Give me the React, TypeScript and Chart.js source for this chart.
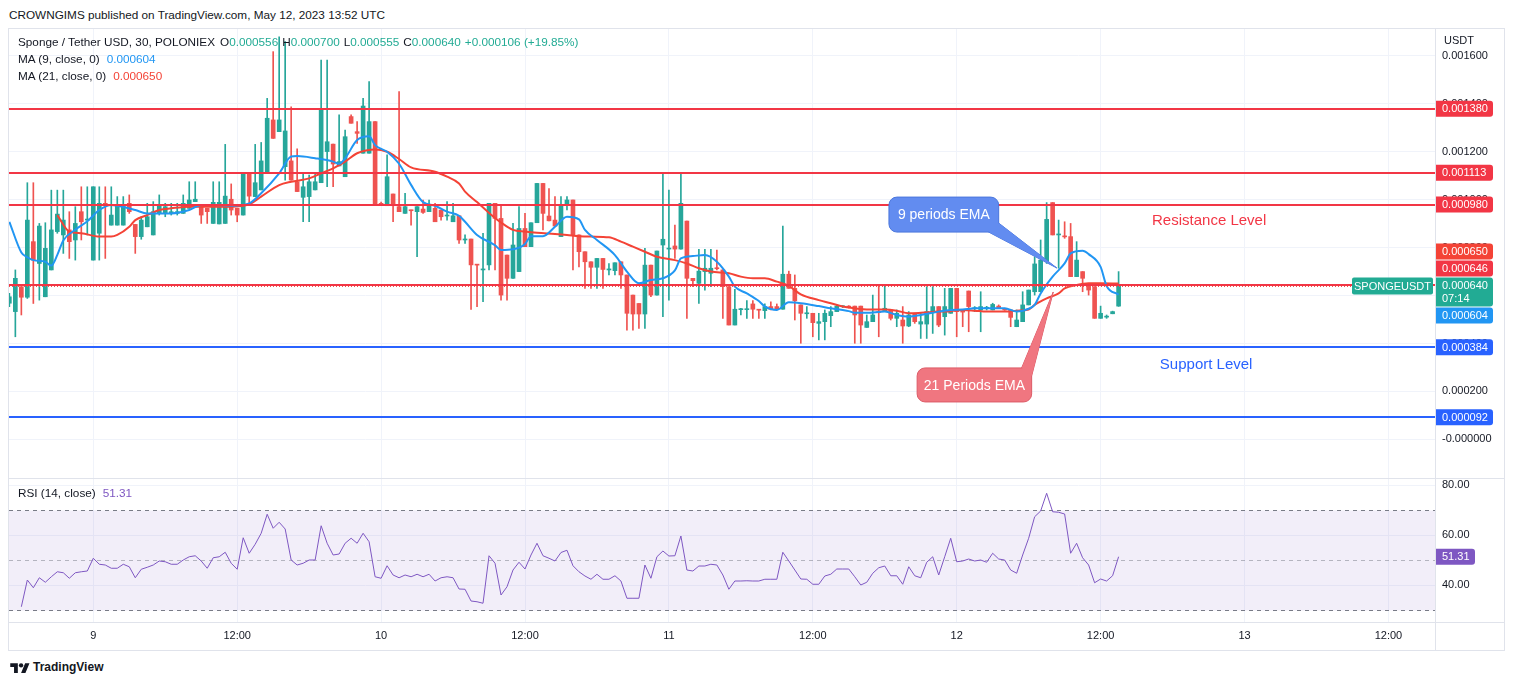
import React, { useEffect, useRef } from 'react';
import { Chart, registerables } from 'chart.js';

Chart.register(...registerables);

const FONT = '"Liberation Sans", Arial, sans-serif';
Chart.defaults.font.family = FONT;

const UNIT = 1e-6; // candle / EMA values are stored in micro-USDT
const FIRST_INDEX = -1; // bar index of the first candle (May 9 00:00 = bar 13)

const candleOpen = [568,
  533,637,593,825,734,595,707,867,853,874,
  832,950,915,748,860,985,894,894,894,985,
  897,846,887,853,943,943,943,943,943,964,
  992,975,964,901,899,901,1002,964,936,1106,
  1013,1041,1110,1333,1284,1138,1162,1075,1010,1013,
  1041,1071,1201,1232,1141,1096,1347,1284,1194,1194,
  1326,985,975,1024,971,943,957,950,961,950,
  964,957,932,908,933,832,836,730,707,728,
  985,922,769,672,700,880,804,904,1068,932,
  915,846,978,999,853,783,741,718,755,707,
  704,741,686,602,567,523,727,602,811,794,
  807,794,911,672,651,700,693,716,707,637,
  477,541,541,565,543,537,554,554,543,689,
  630,561,524,526,484,491,516,533,553,556,
  556,556,467,491,533,533,540,505,498,473,
  526,481,481,529,554,512,526,630,535,619,
  545,540,547,540,556,545,540,470,491,561,
  616,616,741,988,853,848,846,679,700,651,
  637,505,510,524,556];
const candleHigh = [609,
  707,637,1071,1071,901,904,1040,1040,1040,950,
  971,1054,1054,1054,1054,1054,1054,1013,1013,1020,
  897,929,985,992,1020,985,985,985,1020,1075,
  1075,975,964,1075,1075,1231,1066,964,1106,1106,
  1231,1239,1423,1618,1680,1660,1388,1212,1110,1103,
  1110,1583,1583,1232,1354,1291,1354,1326,1423,1493,
  1326,990,1187,1024,1451,1027,957,971,999,999,
  985,957,992,985,933,853,836,730,860,985,
  985,978,769,901,971,943,904,1068,1068,1047,
  1013,1013,1013,999,853,783,741,755,755,734,
  737,741,686,602,567,797,727,786,1113,1040,
  894,1113,911,672,793,793,793,790,707,637,
  626,547,579,579,543,565,574,565,890,702,
  686,561,554,526,526,540,554,561,558,558,
  556,556,519,602,640,640,540,540,554,533,
  526,526,637,637,554,630,630,630,535,619,
  554,616,555,568,561,547,540,540,616,623,
  762,832,988,988,915,908,901,825,700,651,
  637,556,519,535,700];
const candleLow = [554,
  428,519,588,567,581,595,707,860,776,755,
  748,832,853,748,748,755,894,894,894,943,
  776,835,887,853,936,929,936,936,943,964,
  992,901,901,901,899,901,936,908,936,985,
  1013,1041,1110,1256,1284,1082,1082,1034,908,908,
  1041,1071,1054,1054,1141,1096,1319,1235,1194,1194,
  978,975,975,908,950,943,894,762,943,950,
  908,915,915,908,818,818,542,554,575,707,
  707,581,581,672,700,804,804,904,874,912,
  890,846,957,707,720,630,630,630,630,686,
  686,630,456,456,463,463,595,602,512,581,
  755,794,505,637,567,623,637,707,505,477,
  477,519,505,505,505,505,540,540,543,630,
  498,401,505,428,415,415,470,533,550,548,
  401,401,467,491,428,533,498,470,401,470,
  484,421,421,442,470,435,526,428,470,449,
  533,449,540,540,547,538,470,470,491,561,
  602,616,734,853,714,839,679,679,616,602,
  505,505,505,524,555];
const candleClose = [595,
  672,593,915,748,890,797,874,940,915,825,
  901,908,918,1054,985,978,936,978,978,950,
  846,915,929,950,978,971,950,950,985,999,
  1002,936,950,989,989,1015,957,936,1106,1015,
  1071,1162,1340,1256,1333,1287,1082,1034,1054,1075,
  1075,1381,1242,1149,1159,1263,1319,1277,1391,1326,
  978,978,1096,975,950,971,954,971,947,975,
  908,929,936,933,832,836,728,727,710,985,
  922,602,672,811,880,804,904,1068,943,912,
  890,974,999,853,783,741,718,755,709,711,
  737,686,526,523,523,727,602,786,835,797,
  794,985,672,662,702,714,714,712,637,477,
  543,545,545,543,539,554,543,543,689,630,
  578,526,528,487,491,526,533,556,556,551,
  519,477,491,519,529,547,505,526,473,519,
  491,491,533,554,477,554,630,533,531,554,
  549,554,551,563,547,540,509,498,561,623,
  732,748,918,853,856,845,679,748,672,623,
  505,526,514,533,640];

// EMA lines (bar index, micro-USDT)
const ema9Index = [-1,1,2,3,5,6,7,8,10,12,14,16,17,20,22,26,29,31,33,36,39,41,44,46,47,50,53,54,55,57,59,60,62,64,66,68,70,72,74,75,77,80,81,83,85,86,88,90,92,94,95,97,100,102,104,106,108,110,111,113,115,117,119,120,122,124,125,127,129,131,134,136,139,140,142,145,147,149,151,154,156,158,160,165,167,169,170,171,173,175,176,178,179,181,182,184];
const ema9Value = [908,780,760,748,741,725,770,830,875,910,957,978,975,957,943,943,957,978,978,975,985,1027,1110,1180,1182,1173,1159,1150,1173,1249,1265,1228,1200,1150,1062,990,975,950,933,908,853,810,790,793,815,848,848,887,929,918,874,832,769,700,651,665,672,705,755,765,769,741,679,637,609,577,554,540,572,568,556,547,535,528,528,533,519,512,519,533,540,542,547,547,533,545,561,609,679,734,776,787,773,720,640,604];
const ema21Index = [7,9,11,14,16,17,19,20,22,24,26,29,36,39,41,44,46,49,51,53,55,57,60,62,64,66,70,72,74,75,77,79,81,83,85,87,90,92,94,96,99,101,103,105,107,110,112,114,116,119,121,123,125,127,129,131,134,136,138,140,142,145,147,149,151,154,156,158,160,162,165,167,169,170,172,174,175,177,179,181,184];
const ema21Value = [936,867,860,846,846,853,887,915,936,957,964,971,971,981,1013,1061,1075,1089,1110,1131,1159,1194,1210,1200,1170,1135,1117,1096,1068,1034,990,945,905,874,867,862,857,853,848,846,843,825,804,783,762,748,734,714,700,693,679,672,672,658,640,605,581,568,554,547,542,542,537,526,528,533,535,540,537,533,533,537,542,561,588,609,630,644,651,651,650];

// RSI(14) per bar, starting at FIRST_INDEX
const rsiValues = [null, null,
  31.3,42,38.9,42.9,41.1,43.3,45.3,44.9,42.7,44.9,
  45.3,45.6,50.7,48.3,48,46.7,46.7,48.3,47.3,42.9,
  46.3,47.1,48,49.6,49.3,48.3,48.3,50,51.3,51.7,
  49.6,46.7,50.9,51.3,53.1,48.7,46.3,58.9,52.7,56.3,
  60.7,68.3,62.7,65.1,62.4,50,48,48.7,50,50,
  63.7,56.7,52,52.4,56.7,58.7,56.7,60.7,57.3,43.3,
  42.7,47.7,44,42.9,44,43.3,44.3,43.3,44.3,41.6,
  42.9,43.3,42.9,38.4,38.3,33.6,33.3,32.7,51.7,48.7,
  36,39.3,46,49.1,46.4,52,56.7,51.7,50.7,49.6,
  53,53.9,47.7,45.3,43.6,42.3,44.3,42.3,42.3,43.7,
  41.6,34.7,34.7,34.7,48,42.7,51.3,53.6,51.6,51.7,
  59.6,46,45.6,47.6,47.6,48.3,48,44,38.3,41.6,
  41.6,41.7,41.6,41.6,42.3,42.3,42.3,53.1,49.6,46,
  42.4,42.3,40.3,40.3,43.6,44.3,46.4,46.4,46.4,43.3,
  40,41.1,44.7,46.9,47.6,43.7,43.7,40.3,47.3,43.7,
  42.9,49.1,51.3,44,51.3,58.7,49.3,49.6,50.4,49.6,
  50,49.1,52.7,50.4,50,46,44.7,52,58.7,67.3,
  69.6,76.7,69.3,69.1,68.4,52.7,56.7,50.9,48,40.9,
  42.4,41.6,43.7,51.31];

const timeTickIndex = [13, 37, 61, 85, 109, 133, 157, 181, 205, 229];
const timeTickLabels = ['9', '12:00', '10', '12:00', '11', '12:00', '12', '12:00', '13', '12:00'];

const resistanceLevels = [0.00138, 0.001113, 0.00098, 0.000646];
const supportLevels = [0.000384, 0.000092];
const lastPrice = 0.00064;
const ema9Last = 0.000604;
const ema21Last = 0.00065;
const rsiLast = 51.31;
const headerChange = '+0.000106 (+19.85%)';
const countdown = '07:14';
const rsiBand = { upper: 70, middle: 50, lower: 30 };

const X_MIN = -1.059;
const X_MAX = 236.77;
const PRICE_MIN = -0.0001614;
const PRICE_MAX = 0.0017125;
const RSI_MIN = 25.2;
const RSI_MAX = 82.4;

const GREEN = '#26a69a';
const RED_C = '#ef5350';
const EMA9_COLOR = '#2196f3';
const EMA21_COLOR = '#f44336';
const LEVEL_RED = '#f23645';
const LEVEL_BLUE = '#2962ff';
const TEAL = '#22ab94';
const GRID = '#f0f3fa';
const TEXT = '#131722';
const RSI_COLOR = '#7e57c2';
const BORDER = '#e0e3eb';

const priceTags = [
  { value: 0.00138, bg: LEVEL_RED },
  { value: 0.001113, bg: LEVEL_RED },
  { value: 0.00098, bg: LEVEL_RED },
  { value: ema21Last, bg: EMA21_COLOR },
  { value: 0.000646, bg: LEVEL_RED },
  { value: lastPrice, bg: TEAL, sub: countdown },
  { value: ema9Last, bg: EMA9_COLOR },
  { value: 0.000384, bg: LEVEL_BLUE },
  { value: 0.000092, bg: LEVEL_BLUE },
];

const levelCaptions = [
  { text: 'Resistance Level', x: 199.1, y: 0.000911, color: LEVEL_RED },
  { text: 'Support Level', x: 198.6, y: 0.00031, color: LEVEL_BLUE },
];

const calloutNotes = [
  { text: '9 periods EMA', x0: 145.7, x1: 164.0, top: 0.001011, bottom: 0.000865, tipX: 173.7, tipY: 0.000715, fill: '#628cf0', stroke: '#4a76dc', pointer: 'bottom' },
  { text: '21 Periods EMA', x0: 150.4, x1: 169.5, top: 0.000298, bottom: 0.000156, tipX: 173.1, tipY: 0.000615, fill: '#f07680', stroke: '#dc5a66', pointer: 'top' },
];

const fmtPrice = (v: number) => (Math.abs(v) < 1e-12 ? '-0.000000' : v.toFixed(6));

const priceOverlay = {
  id: 'priceOverlay',
  afterDatasetsDraw(chart: any) {
    const { ctx, chartArea: a, scales } = chart;
    const xs = scales.x;
    const ys = scales.y;
    ctx.save();
    ctx.beginPath();
    ctx.rect(a.left, a.top, a.right - a.left, a.bottom - a.top);
    ctx.clip();
    ctx.lineWidth = 2;
    const drawLevel = (v: number, color: string) => {
      const py = Math.round(ys.getPixelForValue(v));
      ctx.strokeStyle = color;
      ctx.beginPath();
      ctx.moveTo(a.left, py);
      ctx.lineTo(a.right, py);
      ctx.stroke();
    };
    resistanceLevels.forEach((v) => drawLevel(v, LEVEL_RED));
    supportLevels.forEach((v) => drawLevel(v, LEVEL_BLUE));
    ctx.lineWidth = 1;
    ctx.setLineDash([1, 2]);
    ctx.strokeStyle = RED_C;
    const lp = Math.round(ys.getPixelForValue(lastPrice)) + 0.5;
    ctx.beginPath();
    ctx.moveTo(a.left, lp);
    ctx.lineTo(a.right - 84, lp);
    ctx.stroke();
    ctx.setLineDash([]);

    ctx.textAlign = 'center';
    ctx.textBaseline = 'middle';
    ctx.font = `15px ${FONT}`;
    levelCaptions.forEach((c) => {
      ctx.fillStyle = c.color;
      ctx.fillText(c.text, xs.getPixelForValue(c.x), ys.getPixelForValue(c.y));
    });

    calloutNotes.forEach((n) => {
      const x0 = xs.getPixelForValue(n.x0);
      const x1 = xs.getPixelForValue(n.x1);
      const top = ys.getPixelForValue(n.top);
      const bottom = ys.getPixelForValue(n.bottom);
      const tx = xs.getPixelForValue(n.tipX);
      const ty = ys.getPixelForValue(n.tipY);
      const b1 = n.pointer === 'bottom' ? [x1 - 10, bottom] : [x1 - 10, top];
      const b2 = n.pointer === 'bottom' ? [x1, bottom - 9] : [x1, top + 8];
      const wedge = () => {
        ctx.beginPath();
        ctx.moveTo(b1[0], b1[1]);
        ctx.lineTo(tx, ty);
        ctx.lineTo(b2[0], b2[1]);
        ctx.closePath();
      };
      ctx.fillStyle = n.fill;
      ctx.strokeStyle = n.stroke;
      ctx.lineWidth = 1;
      wedge();
      ctx.fill();
      ctx.stroke();
      ctx.beginPath();
      ctx.roundRect(x0, top, x1 - x0, bottom - top, 8);
      ctx.fill();
      ctx.stroke();
      wedge();
      ctx.fill();
      ctx.fillStyle = '#ffffff';
      ctx.font = `14px ${FONT}`;
      ctx.fillText(n.text, (x0 + x1) / 2, (top + bottom) / 2 + 1);
    });
    ctx.restore();
  },
  afterDraw(chart: any) {
    const { ctx, chartArea: a, scales } = chart;
    const ys = scales.y;
    const boxW = 58;
    const tags = priceTags.map((t) => ({ ...t, height: t.sub ? 29 : 16, top: 0 }));
    const anchor = tags.find((t) => t.sub)!;
    anchor.top = ys.getPixelForValue(anchor.value) - 8.5;
    let limit = anchor.top - 1;
    tags.filter((t) => t.value > anchor.value).sort((p, q) => p.value - q.value).forEach((t) => {
      const nat = ys.getPixelForValue(t.value) - t.height / 2;
      t.top = Math.min(nat, limit - t.height);
      limit = t.top - 1;
    });
    let floor = anchor.top + anchor.height + 1;
    tags.filter((t) => t.value < anchor.value).sort((p, q) => q.value - p.value).forEach((t) => {
      const nat = ys.getPixelForValue(t.value) - t.height / 2;
      t.top = Math.max(nat, floor);
      floor = t.top + t.height + 1;
    });
    ctx.save();
    ctx.font = `11px ${FONT}`;
    ctx.textBaseline = 'middle';
    tags.forEach((t) => {
      ctx.fillStyle = t.bg;
      ctx.beginPath();
      ctx.roundRect(a.right, t.top, boxW, t.height, [0, 3, 3, 0]);
      ctx.fill();
      ctx.fillStyle = '#ffffff';
      ctx.textAlign = 'left';
      ctx.fillText(fmtPrice(t.value), a.right + 7, t.top + 8.5);
      if (t.sub) ctx.fillText(t.sub, a.right + 7, t.top + 21.5);
    });
    ctx.fillStyle = TEAL;
    ctx.beginPath();
    ctx.roundRect(a.right - 83, anchor.top, 81, 17, 2);
    ctx.fill();
    ctx.fillStyle = '#ffffff';
    ctx.textAlign = 'center';
    ctx.fillText('SPONGEUSDT', a.right - 42.5, anchor.top + 9);
    ctx.restore();
  },
};

const rsiOverlay = {
  id: 'rsiOverlay',
  beforeDatasetsDraw(chart: any) {
    const { ctx, chartArea: a, scales } = chart;
    const ys = scales.y;
    const yU = Math.round(ys.getPixelForValue(rsiBand.upper)) + 0.5;
    const yL = Math.round(ys.getPixelForValue(rsiBand.lower)) + 0.5;
    const yM = Math.round(ys.getPixelForValue(rsiBand.middle)) + 0.5;
    ctx.save();
    ctx.fillStyle = 'rgba(126, 87, 194, 0.1)';
    ctx.fillRect(a.left, yU, a.right - a.left, yL - yU);
    ctx.lineWidth = 1;
    ctx.setLineDash([4, 4]);
    ctx.strokeStyle = '#787b86';
    [yU, yL].forEach((py) => {
      ctx.beginPath();
      ctx.moveTo(a.left, py);
      ctx.lineTo(a.right, py);
      ctx.stroke();
    });
    ctx.strokeStyle = 'rgba(120, 123, 134, 0.5)';
    ctx.beginPath();
    ctx.moveTo(a.left, yM);
    ctx.lineTo(a.right, yM);
    ctx.stroke();
    ctx.restore();
  },
  afterDraw(chart: any) {
    const { ctx, chartArea: a, scales } = chart;
    const py = scales.y.getPixelForValue(rsiLast);
    ctx.save();
    ctx.fillStyle = RSI_COLOR;
    ctx.beginPath();
    ctx.roundRect(a.right, py - 8, 40, 16, [0, 3, 3, 0]);
    ctx.fill();
    ctx.fillStyle = '#ffffff';
    ctx.font = `11px ${FONT}`;
    ctx.textBaseline = 'middle';
    ctx.textAlign = 'left';
    ctx.fillText(rsiLast.toFixed(2), a.right + 7, py + 0.5);
    ctx.restore();
  },
};

const barIndex = candleOpen.map((_, k) => k + FIRST_INDEX);
const candleColors = candleOpen.map((o, k) => (candleClose[k] >= o ? GREEN : RED_C));

const timeTicks = (scale: any) => {
  scale.ticks = timeTickIndex.map((v) => ({ value: v }));
};

export default function App() {
  const priceRef = useRef<HTMLCanvasElement>(null);
  const rsiRef = useRef<HTMLCanvasElement>(null);

  useEffect(() => {
    const price = new Chart(priceRef.current as HTMLCanvasElement, {
      type: 'bar',
      data: {
        datasets: [
          {
            type: 'line',
            data: ema9Index.map((x, k) => ({ x, y: ema9Value[k] * UNIT })),
            borderColor: EMA9_COLOR,
            borderWidth: 2,
            pointRadius: 0,
            cubicInterpolationMode: 'monotone',
            order: 0,
          },
          {
            type: 'line',
            data: ema21Index.map((x, k) => ({ x, y: ema21Value[k] * UNIT })),
            borderColor: EMA21_COLOR,
            borderWidth: 2,
            pointRadius: 0,
            cubicInterpolationMode: 'monotone',
            order: 1,
          },
          {
            type: 'bar',
            data: barIndex.map((x, k) => ({ x, y: [candleOpen[k] * UNIT, candleClose[k] * UNIT] })),
            backgroundColor: candleColors,
            barThickness: 4,
            minBarLength: 1,
            grouped: false,
            borderWidth: 0,
            order: 2,
          },
          {
            type: 'bar',
            data: barIndex.map((x, k) => ({ x, y: [candleLow[k] * UNIT, candleHigh[k] * UNIT] })),
            backgroundColor: candleColors,
            barThickness: 1,
            grouped: false,
            borderWidth: 0,
            order: 3,
          },
        ],
      } as any,
      options: {
        responsive: false,
        animation: false,
        events: [],
        layout: { padding: 0 },
        plugins: { legend: { display: false }, tooltip: { enabled: false } },
        scales: {
          x: {
            type: 'linear',
            min: X_MIN,
            max: X_MAX,
            offset: false,
            grid: { color: GRID, drawTicks: false, offset: false },
            border: { display: false },
            ticks: { display: false },
            afterBuildTicks: timeTicks,
            afterFit: (s: any) => { s.height = 0; s.paddingLeft = 0; s.paddingRight = 0; },
          },
          y: {
            type: 'linear',
            position: 'right',
            min: PRICE_MIN,
            max: PRICE_MAX,
            beginAtZero: false,
            grid: { color: GRID, drawTicks: false },
            border: { display: false },
            ticks: {
              stepSize: 0.0002,
              includeBounds: false,
              padding: 7,
              color: TEXT,
              font: { size: 11, family: FONT },
              callback: (v: any) => fmtPrice(Number(v)),
            },
            afterFit: (s: any) => { s.width = 69; s.paddingTop = 0; s.paddingBottom = 0; },
          },
        },
      } as any,
      plugins: [priceOverlay],
    });

    const rsi = new Chart(rsiRef.current as HTMLCanvasElement, {
      type: 'line',
      data: {
        datasets: [
          {
            data: barIndex.map((x, k) => ({ x, y: rsiValues[k] })),
            borderColor: RSI_COLOR,
            borderWidth: 1,
            pointRadius: 0,
            tension: 0,
          },
        ],
      } as any,
      options: {
        responsive: false,
        animation: false,
        events: [],
        layout: { padding: 0 },
        plugins: { legend: { display: false }, tooltip: { enabled: false } },
        scales: {
          x: {
            type: 'linear',
            min: X_MIN,
            max: X_MAX,
            grid: { color: GRID, drawTicks: false },
            border: { display: false },
            ticks: {
              color: TEXT,
              font: { size: 11, family: FONT },
              padding: 7,
              maxRotation: 0,
              minRotation: 0,
              autoSkip: false,
              callback: (_v: any, i: number) => timeTickLabels[i] ?? '',
            },
            afterBuildTicks: timeTicks,
            afterFit: (s: any) => { s.height = 28; s.paddingLeft = 0; s.paddingRight = 0; },
          },
          y: {
            type: 'linear',
            position: 'right',
            min: RSI_MIN,
            max: RSI_MAX,
            grid: { color: GRID, drawTicks: false },
            border: { display: false },
            ticks: {
              stepSize: 20,
              includeBounds: false,
              padding: 7,
              color: TEXT,
              font: { size: 11, family: FONT },
              callback: (v: any) => Number(v).toFixed(2),
            },
            afterFit: (s: any) => { s.width = 69; s.paddingTop = 0; s.paddingBottom = 0; },
          },
        },
      } as any,
      plugins: [rsiOverlay],
    });

    return () => {
      price.destroy();
      rsi.destroy();
    };
  }, []);

  const last = candleOpen.length - 1;
  const teal = { color: TEAL };
  const line = (top: number, left: number, extra: any = {}) => ({
    position: 'absolute' as const, left, top, fontSize: 11.75, lineHeight: '16px', whiteSpace: 'nowrap' as const, ...extra,
  });

  return (
    <div style={{ position: 'absolute', left: 0, top: 0, width: 1514, height: 685, background: '#ffffff', fontFamily: FONT, color: TEXT, overflow: 'hidden' }}>
      <div style={line(7, 9)}>CROWNGIMS published on TradingView.com, May 12, 2023 13:52 UTC</div>
      <div style={{ position: 'absolute', left: 8, top: 28, width: 1497, height: 623, border: `1px solid ${BORDER}`, boxSizing: 'border-box' }} />
      <canvas ref={priceRef} width={1495} height={449} style={{ position: 'absolute', left: 9, top: 29, width: 1495, height: 449 }} />
      <canvas ref={rsiRef} width={1495} height={171} style={{ position: 'absolute', left: 9, top: 479, width: 1495, height: 171 }} />
      <div style={{ position: 'absolute', left: 9, top: 478, width: 1495, height: 1, background: BORDER }} />
      <div style={{ position: 'absolute', left: 9, top: 622, width: 1495, height: 1, background: BORDER }} />
      <div style={{ position: 'absolute', left: 1435, top: 29, width: 1, height: 621, background: BORDER }} />
      <div style={line(34, 18)}>
        Sponge / Tether USD, 30, POLONIEX
        <span style={{ marginLeft: 5 }}>O<span style={teal}>{(candleOpen[last] * UNIT).toFixed(6)}</span></span>
        <span style={{ marginLeft: 4 }}>H<span style={teal}>{(candleHigh[last] * UNIT).toFixed(6)}</span></span>
        <span style={{ marginLeft: 4 }}>L<span style={teal}>{(candleLow[last] * UNIT).toFixed(6)}</span></span>
        <span style={{ marginLeft: 4 }}>C<span style={teal}>{(candleClose[last] * UNIT).toFixed(6)}</span></span>
        <span style={{ marginLeft: 4, color: TEAL }}>{headerChange}</span>
      </div>
      <div style={line(51, 18)}>
        MA (9, close, 0)<span style={{ marginLeft: 7, color: EMA9_COLOR }}>{ema9Last.toFixed(6)}</span>
      </div>
      <div style={line(68, 18)}>
        MA (21, close, 0)<span style={{ marginLeft: 7, color: EMA21_COLOR }}>{ema21Last.toFixed(6)}</span>
      </div>
      <div style={line(32, 1444, { fontSize: 11 })}>USDT</div>
      <div style={line(485, 18)}>
        RSI (14, close)<span style={{ marginLeft: 7, color: RSI_COLOR }}>{rsiLast.toFixed(2)}</span>
      </div>
      <div style={{ position: 'absolute', left: 10, top: 660, display: 'flex', alignItems: 'center', gap: 3 }}>
        <svg width="20" height="13" viewBox="0 0 36 24">
          <path d="M14 22H7V11H0V4h14v18zM28 22h-8l7.5-18h8L28 22z" fill={TEXT} />
          <circle cx="20" cy="8" r="4" fill={TEXT} />
        </svg>
        <span style={{ fontSize: 12, fontWeight: 700, lineHeight: '14px' }}>TradingView</span>
      </div>
    </div>
  );
}
